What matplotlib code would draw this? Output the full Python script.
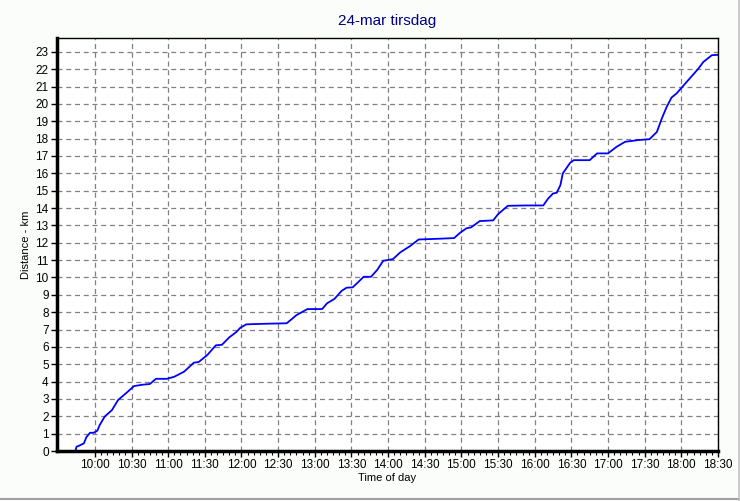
import pandas as pd
import matplotlib
matplotlib.use("Agg")
import matplotlib.pyplot as plt
import matplotlib.dates as mdates
from matplotlib.lines import Line2D

# Tid og distanse
times = ["09:44", "09:45", "09:47", "09:51", "09:53", "09:56", "09:59", "10:02",
         "10:04", "10:08", "10:14", "10:19", "10:26", "10:32", "10:39", "10:45",
         "10:50", "10:59", "11:05", "11:13", "11:21", "11:25", "11:32", "11:39",
         "11:44", "11:50", "11:56", "11:59", "12:04", "12:18", "12:37", "12:45",
         "12:54", "13:06", "13:10", "13:16", "13:22", "13:26", "13:31", "13:35",
         "13:40", "13:46", "13:51", "13:56", "14:04", "14:10", "14:18", "14:25",
         "14:41", "14:54", "14:59", "15:04", "15:08", "15:15", "15:26", "15:30",
         "15:38", "15:53", "16:07", "16:11", "16:15", "16:18", "16:21", "16:23",
         "16:29", "16:32", "16:45", "16:51", "17:00", "17:07", "17:14", "17:25",
         "17:34", "17:40", "17:44", "17:48", "17:52", "17:56", "18:02", "18:08",
         "18:14", "18:18", "18:25", "18:30"]
distance = [0.0, 0.25, 0.30, 0.44, 0.79, 1.05, 1.05, 1.17,
            1.50, 1.98, 2.36, 2.94, 3.36, 3.74, 3.82, 3.86,
            4.16, 4.16, 4.28, 4.57, 5.09, 5.13, 5.53, 6.09,
            6.12, 6.55, 6.87, 7.10, 7.30, 7.33, 7.36, 7.83,
            8.18, 8.18, 8.51, 8.76, 9.23, 9.41, 9.43, 9.70,
            10.04, 10.04, 10.43, 10.96, 11.06, 11.45, 11.81, 12.19,
            12.23, 12.27, 12.58, 12.83, 12.89, 13.25, 13.29, 13.65,
            14.13, 14.15, 14.15, 14.55, 14.84, 14.88, 15.32, 16.00,
            16.61, 16.76, 16.76, 17.15, 17.15, 17.53, 17.82, 17.92,
            17.97, 18.39, 19.16, 19.83, 20.37, 20.60, 21.08, 21.56,
            22.04, 22.42, 22.81, 22.83]

day = "2009-03-24 "
t = pd.to_datetime([day + s for s in times])

plt.rcParams['font.family'] = ['Liberation Sans', 'DejaVu Sans']

fig = plt.figure(figsize=(7.4, 5.01), dpi=100, facecolor="#fbfdfb")
ax = fig.add_axes([57 / 740, 1 - 451 / 501, (718 - 57) / 740, (451 - 38) / 501])
ax.set_facecolor("white")

ax.plot(t, distance, color="#0000ff", linewidth=1.3)

ax.set_xlim(pd.Timestamp(day + "09:29"), pd.Timestamp(day + "18:30"))
ax.set_ylim(0, 23.8)
ax.set_yticks(range(0, 24))

major = pd.date_range(day + "10:00", day + "18:30", freq="30min")
minor = pd.date_range(day + "10:00", day + "18:30", freq="5min")
ax.set_xticks(major)
ax.set_xticks(minor, minor=True)
ax.xaxis.set_major_formatter(mdates.DateFormatter("%H:%M"))

ax.grid(True, which="major", color="#808080", linestyle=(0, (4, 3)), linewidth=0.9)

ax.tick_params(axis="both", which="major", labelsize=8.5, length=4, width=1,
               direction="out", color="black", pad=2)
ax.tick_params(axis="x", which="minor", length=3, width=0.8, direction="out")

for side in ["left", "bottom"]:
    ax.spines[side].set_linewidth(2.5)
for side in ["top", "right"]:
    ax.spines[side].set_linewidth(1)

ax.set_title("24-mar tirsdag", color="#000080", fontsize=11, pad=9)
ax.set_xlabel("Time of day", fontsize=8, labelpad=1)
ax.set_ylabel("Distance - km", fontsize=8, labelpad=3)

# ramme nede og til høyre
fig.add_artist(Line2D([0, 1], [0.003, 0.003], transform=fig.transFigure,
                      color="#a0a0a0", linewidth=1.5))
fig.add_artist(Line2D([0.998, 0.998], [0, 1], transform=fig.transFigure,
                      color="#c0c0c0", linewidth=1.2))

fig.savefig("out.png", dpi=100, facecolor=fig.get_facecolor())
